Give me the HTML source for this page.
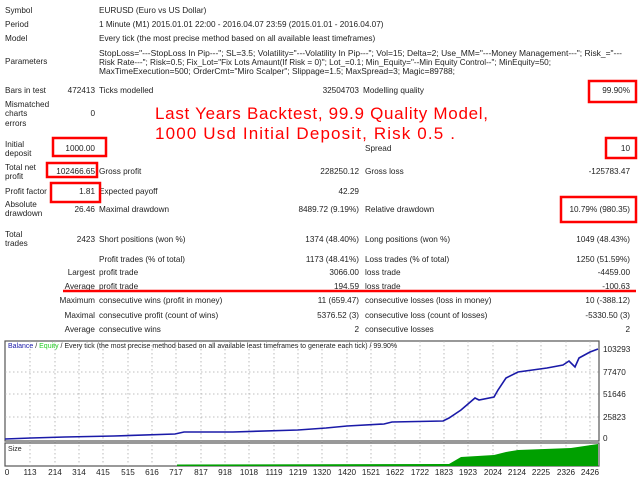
<!DOCTYPE html>
<html><head><meta charset="utf-8"><style>
html,body{margin:0;padding:0;background:#fff;width:640px;height:480px;overflow:hidden}
svg text{font-family:"Liberation Sans",sans-serif;font-size:8.2px;fill:#222}
</style></head><body>
<svg width="640" height="480" viewBox="0 0 640 480" xmlns="http://www.w3.org/2000/svg">
<g>
<text x="5" y="13">Symbol</text><text x="99" y="13">EURUSD (Euro vs US Dollar)</text>
<text x="5" y="27">Period</text><text x="99" y="27">1 Minute (M1) 2015.01.01 22:00 - 2016.04.07 23:59 (2015.01.01 - 2016.04.07)</text>
<text x="5" y="41">Model</text><text x="99" y="41">Every tick (the most precise method based on all available least timeframes)</text>
<text x="5" y="64">Parameters</text>
<text x="99" y="56" textLength="523" lengthAdjust="spacingAndGlyphs">StopLoss="---StopLoss In Pip---"; SL=3.5; Volatility="---Volatility In Pip---"; Vol=15; Delta=2; Use_MM="---Money Management---"; Risk_="---</text>
<text x="99" y="65" textLength="452" lengthAdjust="spacingAndGlyphs">Risk Rate---"; Risk=0.5; Fix_Lot="Fix Lots Amaunt(If Risk = 0)"; Lot_=0.1; Min_Equity="--Min Equity Control--"; MinEquity=50;</text>
<text x="99" y="74" textLength="356" lengthAdjust="spacingAndGlyphs">MaxTimeExecution=500; OrderCmt="Miro Scalper"; Slippage=1.5; MaxSpread=3; Magic=89788;</text>
<text x="5" y="93">Bars in test</text><text x="95" y="93" text-anchor="end">472413</text><text x="99" y="93">Ticks modelled</text><text x="359" y="93" text-anchor="end">32504703</text><text x="363" y="93">Modelling quality</text><text x="630" y="93" text-anchor="end">99.90%</text>
<text x="5" y="107">Mismatched</text><text x="5" y="116">charts</text><text x="5" y="126">errors</text><text x="95" y="116" text-anchor="end">0</text>
<text x="5" y="147">Initial</text><text x="5" y="156">deposit</text><text x="95" y="151" text-anchor="end">1000.00</text><text x="365" y="151">Spread</text><text x="630" y="151" text-anchor="end">10</text>
<text x="5" y="170">Total net</text><text x="5" y="179">profit</text><text x="95" y="174" text-anchor="end">102466.65</text><text x="99" y="174">Gross profit</text><text x="359" y="174" text-anchor="end">228250.12</text><text x="365" y="174">Gross loss</text><text x="630" y="174" text-anchor="end">-125783.47</text>
<text x="5" y="194">Profit factor</text><text x="95" y="194" text-anchor="end">1.81</text><text x="99" y="194">Expected payoff</text><text x="359" y="194" text-anchor="end">42.29</text>
<text x="5" y="207">Absolute</text><text x="5" y="216">drawdown</text><text x="95" y="212" text-anchor="end">26.46</text><text x="99" y="212">Maximal drawdown</text><text x="359" y="212" text-anchor="end">8489.72 (9.19%)</text><text x="365" y="212">Relative drawdown</text><text x="630" y="212" text-anchor="end">10.79% (980.35)</text>
<text x="5" y="237">Total</text><text x="5" y="246">trades</text><text x="95" y="242" text-anchor="end">2423</text><text x="99" y="242">Short positions (won %)</text><text x="359" y="242" text-anchor="end">1374 (48.40%)</text><text x="365" y="242">Long positions (won %)</text><text x="630" y="242" text-anchor="end">1049 (48.43%)</text>
<text x="99" y="262">Profit trades (% of total)</text><text x="359" y="262" text-anchor="end">1173 (48.41%)</text><text x="365" y="262">Loss trades (% of total)</text><text x="630" y="262" text-anchor="end">1250 (51.59%)</text>
<text x="95" y="275" text-anchor="end">Largest</text><text x="99" y="275">profit trade</text><text x="359" y="275" text-anchor="end">3066.00</text><text x="365" y="275">loss trade</text><text x="630" y="275" text-anchor="end">-4459.00</text>
<text x="95" y="289" text-anchor="end">Average</text><text x="99" y="289">profit trade</text><text x="359" y="289" text-anchor="end">194.59</text><text x="365" y="289">loss trade</text><text x="630" y="289" text-anchor="end">-100.63</text>
<text x="95" y="303" text-anchor="end">Maximum</text><text x="99" y="303">consecutive wins (profit in money)</text><text x="359" y="303" text-anchor="end">11 (659.47)</text><text x="365" y="303">consecutive losses (loss in money)</text><text x="630" y="303" text-anchor="end">10 (-388.12)</text>
<text x="95" y="318" text-anchor="end">Maximal</text><text x="99" y="318">consecutive profit (count of wins)</text><text x="359" y="318" text-anchor="end">5376.52 (3)</text><text x="365" y="318">consecutive loss (count of losses)</text><text x="630" y="318" text-anchor="end">-5330.50 (3)</text>
<text x="95" y="332" text-anchor="end">Average</text><text x="99" y="332">consecutive wins</text><text x="359" y="332" text-anchor="end">2</text><text x="365" y="332">consecutive losses</text><text x="630" y="332" text-anchor="end">2</text>
</g>
<text x="155" y="119" style="font-size:17px;fill:#f00" textLength="333">Last Years Backtest, 99.9 Quality Model,</text>
<text x="155" y="139" style="font-size:17px;fill:#f00" textLength="300">1000 Usd Initial Deposit, Risk 0.5 .</text>
<g fill="none" stroke="#f00" stroke-width="2.5">
<rect x="589" y="81" width="47" height="21"/>
<rect x="53" y="138" width="53" height="18"/>
<rect x="606" y="138" width="30" height="20"/>
<rect x="47" y="163" width="50" height="14"/>
<rect x="51" y="183" width="49" height="19"/>
<rect x="561" y="197" width="75" height="25"/>
<line x1="63" y1="291" x2="636" y2="291"/>
</g>
<rect x="5" y="341" width="594" height="100" fill="#fff" stroke="#555" stroke-width="1.2"/>
<rect x="5" y="443" width="594" height="23" fill="#fff" stroke="#555" stroke-width="1.2"/>
<g stroke="#aaa" stroke-width="0.8" stroke-dasharray="1.5,2.5">
<line x1="5" y1="372" x2="599" y2="372"/><line x1="5" y1="394" x2="599" y2="394"/><line x1="5" y1="417" x2="599" y2="417"/>
<line x1="30" y1="341" x2="30" y2="466"/><line x1="55" y1="341" x2="55" y2="466"/><line x1="79" y1="341" x2="79" y2="466"/><line x1="103" y1="341" x2="103" y2="466"/><line x1="128" y1="341" x2="128" y2="466"/><line x1="152" y1="341" x2="152" y2="466"/><line x1="176" y1="341" x2="176" y2="466"/><line x1="201" y1="341" x2="201" y2="466"/><line x1="225" y1="341" x2="225" y2="466"/><line x1="249" y1="341" x2="249" y2="466"/><line x1="274" y1="341" x2="274" y2="466"/><line x1="298" y1="341" x2="298" y2="466"/><line x1="322" y1="341" x2="322" y2="466"/><line x1="347" y1="341" x2="347" y2="466"/><line x1="371" y1="341" x2="371" y2="466"/><line x1="395" y1="341" x2="395" y2="466"/><line x1="420" y1="341" x2="420" y2="466"/><line x1="444" y1="341" x2="444" y2="466"/><line x1="468" y1="341" x2="468" y2="466"/><line x1="493" y1="341" x2="493" y2="466"/><line x1="517" y1="341" x2="517" y2="466"/><line x1="541" y1="341" x2="541" y2="466"/><line x1="566" y1="341" x2="566" y2="466"/><line x1="590" y1="341" x2="590" y2="466"/>
</g>
<polygon fill="#00a000" points="177,466 177,464.5 449,464 461,457 494,455 506,452 518,450 571,448 598,444 598,466"/>
<polyline fill="none" stroke="#1a1aa8" stroke-width="1.6" points="5,439 31,438 65,437 114,436 175,434 184,432 233,432 298,430 326,428 347,426 384,424 392,422 443,421 449,418 461,410 475,398 479,400 494,397 498,390 506,378 518,372 547,368 563,365 569,361 575,367 579,358 590,352 598,349"/>
<text x="8" y="348" style="font-size:7px"><tspan style="fill:#1a1aa8">Balance</tspan> / <tspan style="fill:#2c2">Equity</tspan> / Every tick (the most precise method based on all available least timeframes to generate each tick) / 99.90%</text>
<text x="8" y="451" style="font-size:7px">Size</text>
<g style="font-size:7px">
<text x="603" y="352">103293</text><text x="603" y="375">77470</text><text x="603" y="397">51646</text><text x="603" y="420">25823</text><text x="603" y="441">0</text>
</g>
<g style="font-size:7px" text-anchor="middle">
<text x="7" y="475">0</text><text x="30" y="475">113</text><text x="55" y="475">214</text><text x="79" y="475">314</text><text x="103" y="475">415</text><text x="128" y="475">515</text><text x="152" y="475">616</text><text x="176" y="475">717</text><text x="201" y="475">817</text><text x="225" y="475">918</text><text x="249" y="475">1018</text><text x="274" y="475">1119</text><text x="298" y="475">1219</text><text x="322" y="475">1320</text><text x="347" y="475">1420</text><text x="371" y="475">1521</text><text x="395" y="475">1622</text><text x="420" y="475">1722</text><text x="444" y="475">1823</text><text x="468" y="475">1923</text><text x="493" y="475">2024</text><text x="517" y="475">2124</text><text x="541" y="475">2225</text><text x="566" y="475">2326</text><text x="590" y="475">2426</text>
</g>
</svg>
</body></html>
